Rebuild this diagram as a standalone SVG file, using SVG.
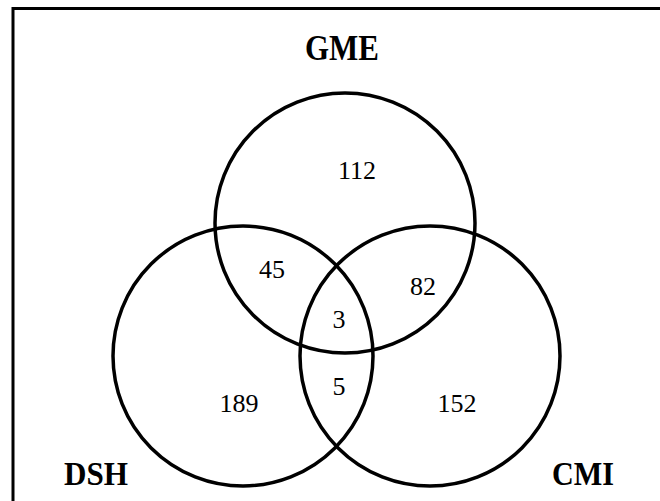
<svg xmlns="http://www.w3.org/2000/svg" width="660" height="501" viewBox="0 0 660 501">
<style>
.frame{fill:none;stroke:#000;stroke-width:3}
.set{fill:none;stroke:#000;stroke-width:3.5}
.lbl{font-family:"Liberation Serif","Times New Roman",serif;font-weight:bold;font-size:33px;fill:#000}
.num{font-family:"Liberation Serif","Times New Roman",serif;font-size:26px;fill:#000;text-anchor:middle}
</style>
<rect width="660" height="501" fill="#fff"/>
<path class="frame" d="M13,520 V8.5 H680"/>
<g id="GME">
<circle class="set" cx="345" cy="223" r="130"/>
<text class="lbl" x="305" y="60" style="font-size:35px" textLength="74" lengthAdjust="spacingAndGlyphs">GME</text>
</g>
<g id="DSH">
<circle class="set" cx="243" cy="356" r="130"/>
<text class="lbl" x="64" y="485" textLength="64" lengthAdjust="spacingAndGlyphs">DSH</text>
</g>
<g id="CMI">
<circle class="set" cx="430" cy="356" r="130"/>
<text class="lbl" x="552" y="485" textLength="62" lengthAdjust="spacingAndGlyphs">CMI</text>
</g>
<g id="counts">
<text class="num" x="357" y="179">112</text>
<text class="num" x="272" y="278">45</text>
<text class="num" x="423" y="295">82</text>
<text class="num" x="339" y="328">3</text>
<text class="num" x="339" y="395">5</text>
<text class="num" x="239" y="412">189</text>
<text class="num" x="457" y="412">152</text>
</g>
<g id="connectors"/>
</svg>
